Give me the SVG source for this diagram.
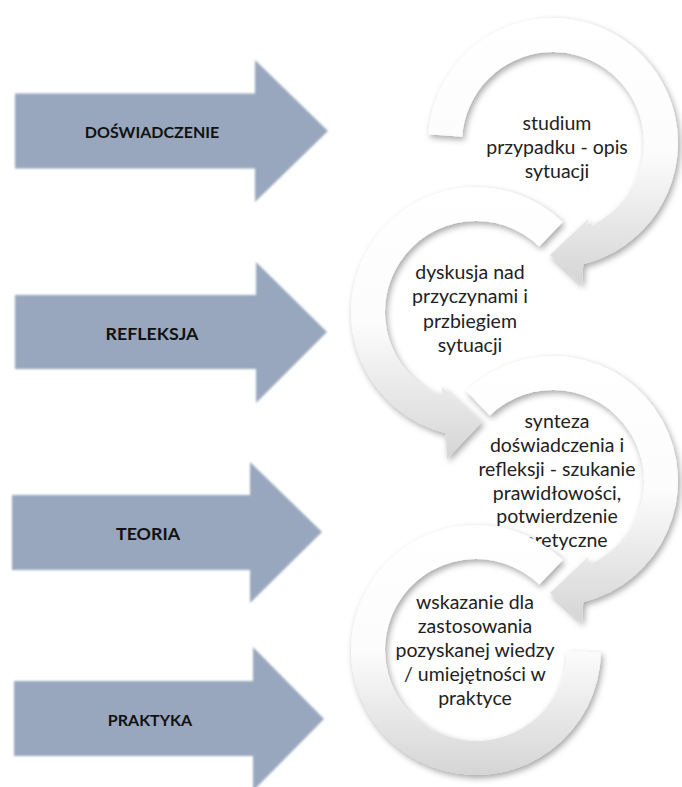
<svg xmlns="http://www.w3.org/2000/svg" width="682" height="787" viewBox="0 0 682 787">
<defs>
<style>
.arrow{fill:#98a7bd;filter:url(#soft);}
.lbl{font-family:Lato,'Liberation Sans',sans-serif;font-weight:700;font-size:16px;fill:#111;text-anchor:middle;}
.big{font-size:17.8px;}
.ring{fill:url(#ringGrad);filter:url(#shadow);}
.txt{font-family:Lato,'Liberation Sans',sans-serif;font-size:19.5px;fill:#222;text-anchor:middle;}
</style>
<filter id="soft" x="-5%" y="-5%" width="110%" height="110%"><feGaussianBlur stdDeviation="1.1"/></filter>
<filter id="shadow" x="-15%" y="-15%" width="130%" height="130%"><feDropShadow dx="2" dy="3" stdDeviation="3" flood-color="#000" flood-opacity="0.35"/></filter>
<linearGradient id="ringGrad" x1="0" y1="0" x2="0" y2="1"><stop offset="0" stop-color="#ffffff"/><stop offset="0.5" stop-color="#fcfcfc"/><stop offset="1" stop-color="#d5d5d5"/></linearGradient>
</defs>
<rect width="682" height="787" fill="#ffffff"/>

<g id="arrow-doswiadczenie">
<path class="arrow" d="M15,93.5 H255 V60 L328,131 L255,202 V168.5 H15 Z"/>
<text class="lbl" x="152" y="138">DOŚWIADCZENIE</text>
</g>
<g id="arrow-refleksja">
<path class="arrow" d="M15,295 H256 V262 L327,332 L256,403 V369 H15 Z"/>
<text class="lbl big" x="152" y="339.5">REFLEKSJA</text>
</g>
<g id="arrow-teoria">
<path class="arrow" d="M12,495 H250 V462 L322,532 L250,603 V570 H12 Z"/>
<text class="lbl big" x="148" y="539.5">TEORIA</text>
</g>
<g id="arrow-praktyka">
<path class="arrow" d="M14,681 H253 V647 L324,719 L253,791 V756 H14 Z"/>
<text class="lbl" x="150" y="726">PRAKTYKA</text>
</g>

<g id="connectors"></g>

<g id="step-1">
<path class="ring" d="M428.30,134.28 A125,125 0 1 1 583.24,264.29 L582,285 L550,255 L588,219 L587.09,227.37 A91,91 0 1 0 462.22,136.65 Z"/>
<text class="txt" x="557"><tspan x="557" y="130">studium</tspan><tspan x="557" y="154">przypadku - opis</tspan><tspan x="557" y="178">sytuacji</tspan></text>
</g>
<g id="step-2">
<path class="ring" d="M562.83,222.08 A125,125 0 1 0 445.76,433.29 L447,459 L482,422 L442,387 L441.91,396.37 A91,91 0 1 1 539.21,246.54 Z"/>
<text class="txt" x="470"><tspan x="470" y="279">dyskusja nad</tspan><tspan x="470" y="303">przyczynami i</tspan><tspan x="470" y="328">przbiegiem</tspan><tspan x="470" y="352">sytuacji</tspan></text>
</g>
<g id="step-3">
<path class="ring" d="M466.17,391.08 A125,125 0 1 1 583.24,602.29 L582,623 L550,593 L588,557 L587.09,565.37 A91,91 0 1 0 489.79,415.54 Z"/>
<text class="txt" x="557"><tspan x="557" y="428">synteza</tspan><tspan x="557" y="452">doświadczenia i</tspan><tspan x="557" y="476">refleksji - szukanie</tspan><tspan x="557" y="500">prawidłowości,</tspan><tspan x="557" y="523">potwierdzenie</tspan><tspan x="557" y="547">teoretyczne</tspan></text>
</g>
<g id="step-4">
<path class="ring" d="M562.83,560.08 A125,125 0 1 0 600.98,652.18 L566.99,651.59 A91,91 0 1 1 539.21,584.54 Z"/>
<text class="txt" x="475"><tspan x="475" y="609">wskazanie dla</tspan><tspan x="475" y="633">zastosowania</tspan><tspan x="475" y="657">pozyskanej wiedzy</tspan><tspan x="475" y="681">/ umiejętności w</tspan><tspan x="475" y="705">praktyce</tspan></text>
</g>
</svg>
